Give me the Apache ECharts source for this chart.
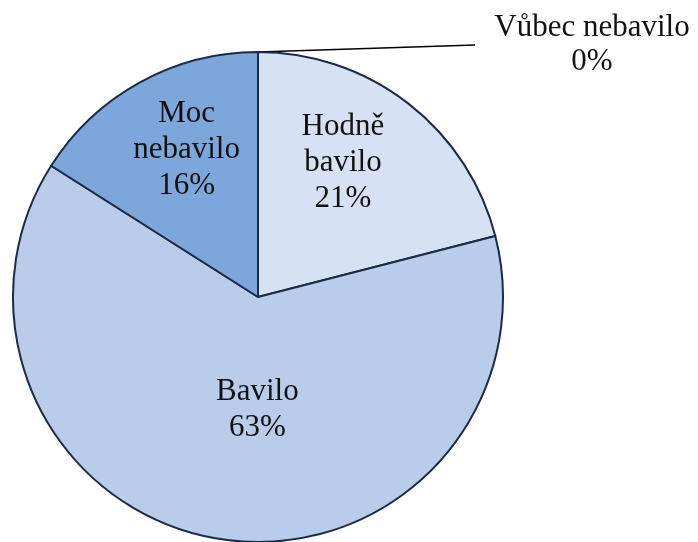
<!DOCTYPE html>
<html>
<head>
<meta charset="utf-8">
<script src="https://cdn.jsdelivr.net/npm/echarts@6/dist/echarts.min.js"></script>
<style>
  html, body { margin: 0; padding: 0; background: #fff; }
  #chart { width: 698px; height: 542px; }
</style>
</head>
<body>
<div id="chart"></div>
<script>
// kategorie a podíly (%)
const categories = ['Vůbec nebavilo', 'Hodně bavilo', 'Bavilo', 'Moc nebavilo'];
const percents = [0, 21, 63, 16];

const sliceColors = ['#7DA7DB', '#D6E2F3', '#B9CDEA', '#7DA7DB'];
// posun popisků uvnitř výsečí (px)
const labelShift = [[0, 0], [8, -35], [19, -11], [-11, -37]];

let myChart = echarts.init(document.getElementById('chart'));

myChart.setOption({
  animation: false,
  series: [
    {
      type: 'pie',
      center: [258, 297],
      radius: 245,
      startAngle: 90,
      clockwise: true,
      avoidLabelOverlap: false,
      emphasis: { disabled: true },
      itemStyle: {
        borderColor: '#1B2A47',
        borderWidth: 2
      },
      label: {
        position: 'inside',
        fontFamily: 'Liberation Serif',
        fontSize: 31,
        lineHeight: 36,
        color: '#111',
        formatter: p => p.name.replace(' ', '\n') + '\n' + p.value + '%'
      },
      labelLayout: p => {
        if (p.dataIndex === 0 && p.labelLinePoints) {
          // vodicí čára nulové výseče vede doprava (zrcadlení kolem kotvy)
          const pts = p.labelLinePoints;
          const ax = pts[0][0];
          const m = pts.map(q => [2 * ax - q[0], q[1]]);
          return {
            x: m[2][0] + 19,
            y: m[2][1],
            align: 'left',
            verticalAlign: 'middle',
            labelLinePoints: [m[0], m[0], m[2]]
          };
        }
        const s = labelShift[p.dataIndex];
        return { dx: s[0], dy: s[1] };
      },
      data: categories.map((name, i) => {
        const item = {
          name: name,
          value: percents[i],
          itemStyle: { color: sliceColors[i] }
        };
        if (i === 0) {
          // nulová výseč má popisek venku s vodicí čarou
          item.label = {
            position: 'outside',
            formatter: p => '{a|' + p.name + '}\n{a|' + p.value + '%}',
            rich: {
              a: {
                fontFamily: 'Liberation Serif',
                fontSize: 31,
                lineHeight: 34,
                color: '#111',
                width: 196,
                align: 'center'
              }
            }
          };
          item.labelLine = {
            show: true,
            length: 7,
            length2: 217,
            lineStyle: { color: '#000', width: 1.5 }
          };
        }
        return item;
      })
    }
  ]
});
</script>
</body>
</html>
